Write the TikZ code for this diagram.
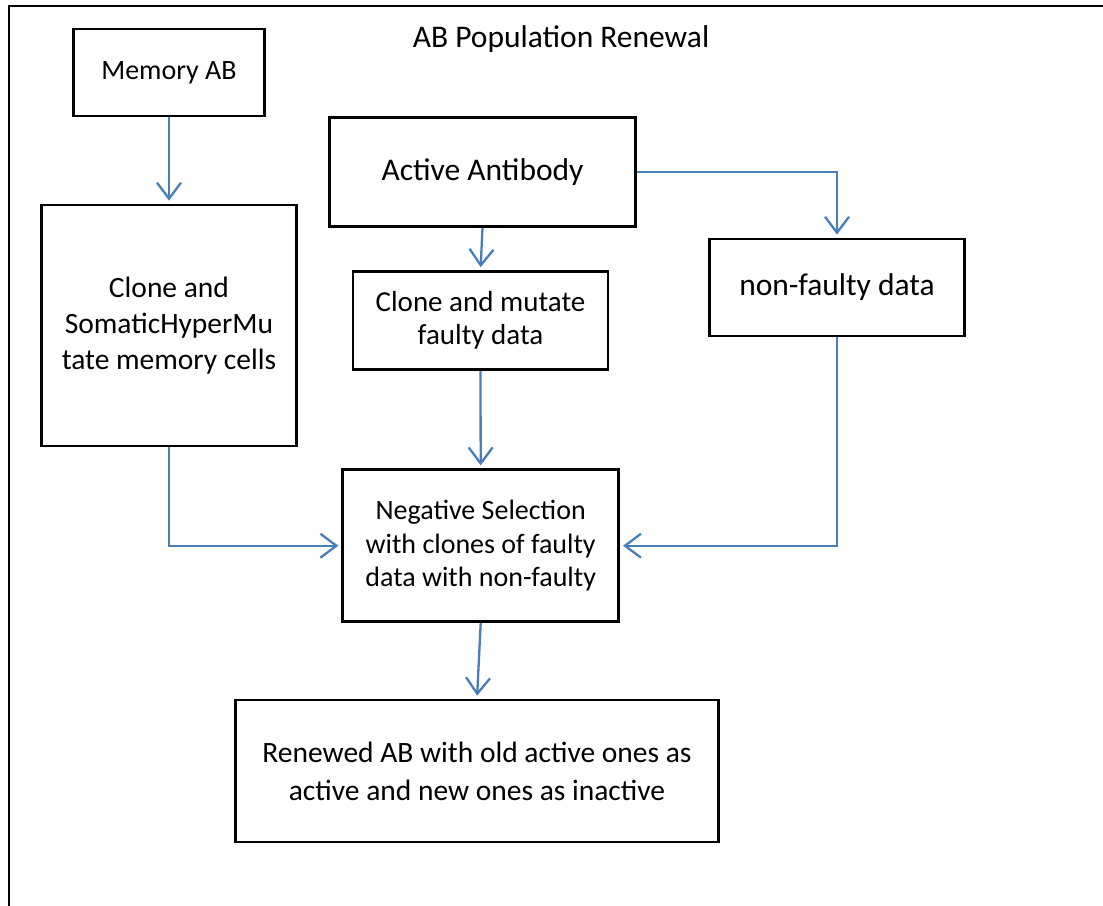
\documentclass[tikz,border=0pt]{standalone}
\usepackage{fontspec}
\setmainfont{Carlito}
\usetikzlibrary{arrows.meta}
\definecolor{flowblue}{RGB}{74,126,187}
\newcommand{\fs}[2]{\fontsize{#1}{#2}\selectfont}
\tikzset{
  procbox/.style={draw=black, line width=2.7pt, inner sep=0pt, align=center, fill=white},
  flow/.style={draw=flowblue, line width=2.3pt, shorten >=3pt,
    -{Straight Barb[length=16pt, width=24pt, line width=2.3pt]}},
  frameline/.style={draw=black, line width=2.4pt}
}
\begin{document}
\begin{tikzpicture}[x=1pt, y=-1pt]
  \useasboundingbox (0,0) rectangle (1103,905);
  \fill[white] (0,0) rectangle (1103,905);

  % partial outer frame
  \coordinate (fbl) at (9,912);
  \coordinate (ftl) at (9,6);
  \coordinate (ftr) at (1110,6);
  \draw[frameline] (fbl) -- (ftl) -- (ftr);

  % title
  \node[font=\fs{31.5}{38}] (title) at (561,39) {AB Population Renewal};

  % process boxes
  \node[procbox, font=\fs{28}{34}, minimum width=191pt, minimum height=87pt] (mem) at (169,72.5)
    {Memory AB};
  \node[procbox, font=\fs{29.5}{36}, minimum width=255pt, minimum height=241pt] (shm) at (169,325.5)
    {Clone and\\SomaticHyperMu\\tate memory cells};
  \node[procbox, font=\fs{31.5}{38}, minimum width=306pt, minimum height=109pt] (aa) at (482.5,172)
    {Active Antibody};
  \node[procbox, font=\fs{29}{33.5}, minimum width=255pt, minimum height=98pt] (cm) at (480.5,320.5)
    {Clone and mutate\\faulty data};
  \node[procbox, font=\fs{31.5}{38}, minimum width=255pt, minimum height=97pt] (nf) at (837,287.5)
    {non-faulty data};
  \node[procbox, font=\fs{28}{33.5}, minimum width=276pt, minimum height=152pt] (neg) at (480.7,545.7)
    {Negative Selection\\with clones of faulty\\data with non-faulty};
  \node[procbox, font=\fs{29.5}{38}, minimum width=483pt, minimum height=142pt] (ren) at (477,771)
    {Renewed AB with old active ones as\\active and new ones as inactive};

  % connectors
  \draw[flow] (mem.south) -- (shm.north);
  \draw[flow] (aa.south) -- (cm.north);
  \draw[flow] (aa.east) -| (nf.north);
  \draw[flow] (cm.south) -- (neg.north);
  \draw[flow] (shm.south) |- (neg.west);
  \draw[flow] (nf.south) |- (neg.east);
  \draw[flow] (neg.south) -- (ren.north);
\end{tikzpicture}
\end{document}
